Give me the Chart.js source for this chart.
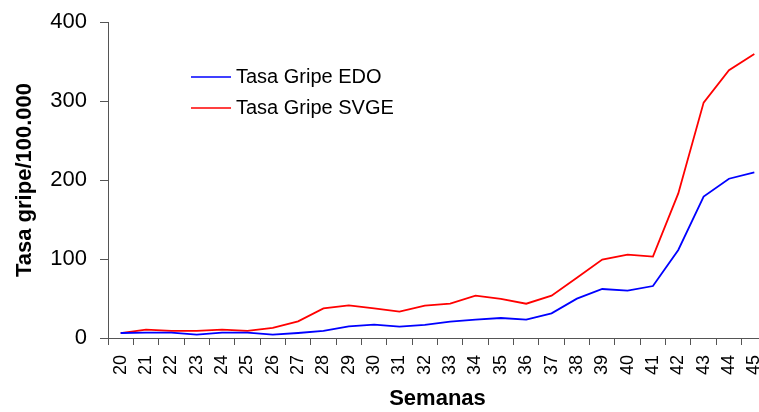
<!DOCTYPE html>
<html>
<head>
<meta charset="utf-8">
<script src="https://cdn.jsdelivr.net/npm/chart.js@4/dist/chart.umd.min.js"></script>
<style>
html, body { margin: 0; padding: 0; background: #fff; overflow: hidden; width: 759px; height: 412px; }
#wrap { width: 767px; height: 412px; }
canvas { display: block; }
</style>
</head>
<body>
<div id="wrap"><canvas id="c" width="767" height="412"></canvas></div>
<script>
const weeks = ['20','21','22','23','24','25','26','27','28','29','30','31','32','33','34','35','36','37','38','39','40','41','42','43','44','45'];
const tasaEDO = [6.3, 6.8, 6.8, 4.2, 6.8, 6.8, 4.2, 6.3, 8.9, 14.8, 16.9, 14.3, 16.5, 20.6, 23.2, 25.3, 23.2, 31.2, 49.8, 62.0, 60.0, 65.8, 111.4, 179.0, 201.6, 209.7];
const tasaSVGE = [6.3, 10.5, 9.0, 9.0, 10.5, 9.0, 12.7, 21.0, 37.5, 41.3, 37.5, 33.3, 41.0, 43.4, 53.6, 49.4, 43.4, 53.6, 76.3, 99.2, 105.5, 103.0, 183.0, 298.0, 339.0, 359.5];
const seriesNames = ['Tasa Gripe EDO', 'Tasa Gripe SVGE'];
const seriesColors = ['#0000ff', '#ff0000'];
const yTicks = [0, 100, 200, 300, 400];
const yTitle = 'Tasa gripe/100.000';
const xTitle = 'Semanas';

const axisColor = '#555555';
const FONT = "'Liberation Sans', Arial, Helvetica, sans-serif";

const legendPlugin = {
  id: 'innerLegend',
  afterDraw(chart) {
    const ctx = chart.ctx;
    ctx.save();
    chart.data.datasets.forEach((ds, i) => {
      const y = 77 + i * 31;
      ctx.strokeStyle = ds.borderColor;
      ctx.lineWidth = 1.5;
      ctx.beginPath();
      ctx.moveTo(191, y);
      ctx.lineTo(231, y);
      ctx.stroke();
      ctx.fillStyle = '#000';
      ctx.font = '20px ' + FONT;
      ctx.textBaseline = 'middle';
      ctx.textAlign = 'left';
      ctx.fillText(ds.label, 236, y);
    });
    ctx.restore();
  }
};

new Chart(document.getElementById('c'), {
  type: 'line',
  data: {
    labels: weeks,
    datasets: [
      { label: seriesNames[0], data: tasaEDO, borderColor: seriesColors[0], backgroundColor: seriesColors[0], borderWidth: 1.8, pointRadius: 0, tension: 0, fill: false },
      { label: seriesNames[1], data: tasaSVGE, borderColor: seriesColors[1], backgroundColor: seriesColors[1], borderWidth: 1.8, pointRadius: 0, tension: 0, fill: false }
    ]
  },
  options: {
    responsive: false,
    animation: false,
    devicePixelRatio: 1,
    layout: { padding: { top: 22, right: 0, bottom: 0, left: 0 } },
    plugins: { legend: { display: false }, tooltip: { enabled: false } },
    scales: {
      x: {
        type: 'category',
        offset: true,
        grid: { display: true, offset: true, drawOnChartArea: false, drawTicks: true, tickLength: 7, color: axisColor, lineWidth: 1 },
        border: { display: true, color: axisColor, width: 1 },
        ticks: { color: '#000', font: { family: FONT, size: 18 }, minRotation: 90, maxRotation: 90, autoSkip: false, padding: 10 },
        title: { display: true, text: xTitle, color: '#000', font: { family: FONT, size: 22, weight: 'bold' }, padding: { top: 0, bottom: 0 } },
        afterFit(scale) { scale.height = 74; scale.paddingLeft = 0; scale.paddingRight = 0; }
      },
      y: {
        min: 0,
        max: 400,
        grid: { display: true, drawOnChartArea: false, drawTicks: true, tickLength: 8, color: axisColor, lineWidth: 1 },
        border: { display: true, color: axisColor, width: 1 },
        ticks: { stepSize: 100, color: '#000', font: { family: FONT, size: 22 }, padding: 13,
          callback: (v) => yTicks.includes(v) ? String(v) : '' },
        title: { display: true, text: yTitle, color: '#000', font: { family: FONT, size: 22, weight: 'bold' }, padding: { top: 12, bottom: 0 } },
        afterFit(scale) { scale.width = 108; scale.paddingTop = 0; scale.paddingBottom = 0; }
      }
    }
  },
  plugins: [legendPlugin]
});
</script>
</body>
</html>
